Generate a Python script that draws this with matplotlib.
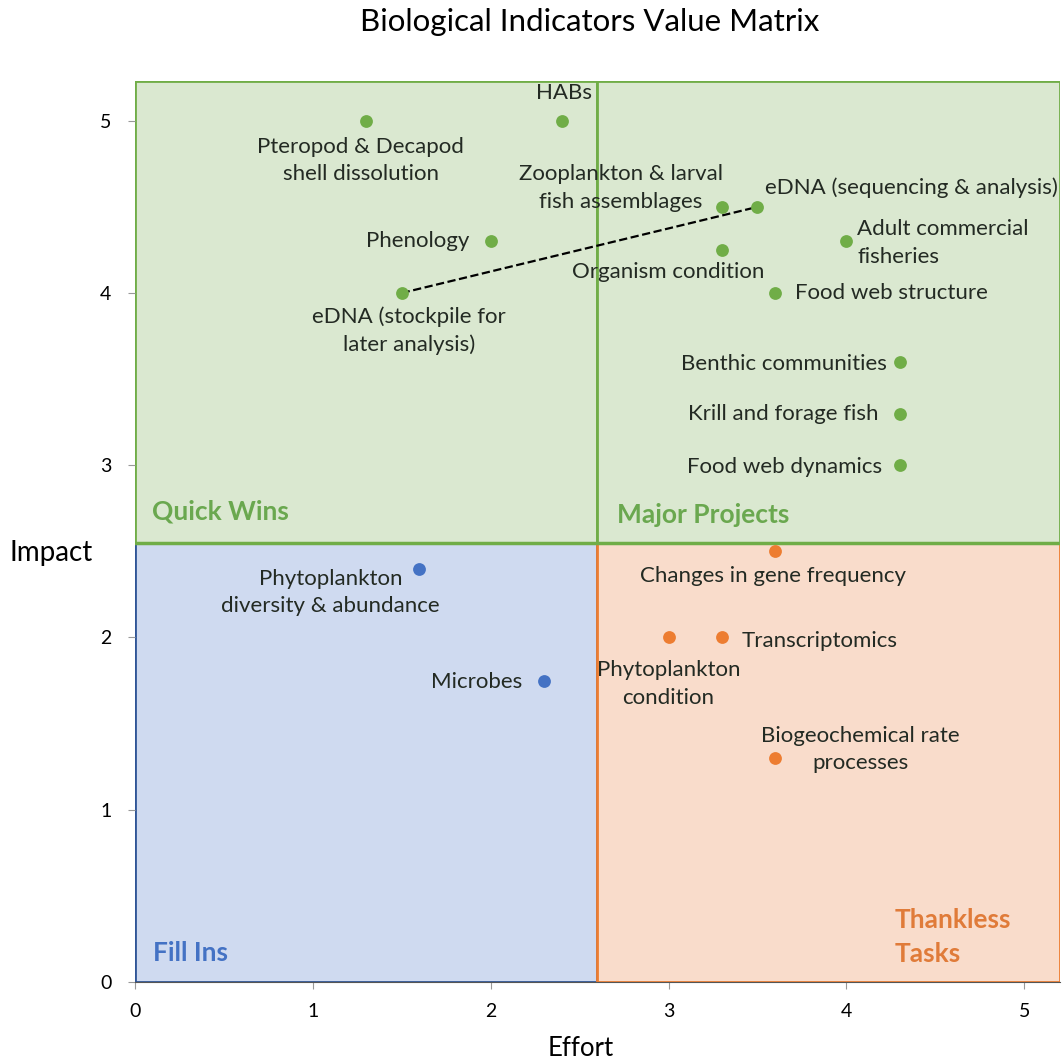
import matplotlib.pyplot as plt
from matplotlib.patches import Rectangle

plt.rcParams['font.family'] = ['Lato', 'DejaVu Sans']

# green group (top quadrants)
green_names = ['Pteropod & Decapod\nshell dissolution', 'HABs', 'Zooplankton & larval\nfish assemblages',
               'eDNA (sequencing & analysis)', 'Phenology', 'Organism condition',
               'Adult commercial\nfisheries', 'eDNA (stockpile for\nlater analysis)', 'Food web structure',
               'Benthic communities', 'Krill and forage fish', 'Food web dynamics']
green_x = [1.3, 2.4, 3.3, 3.5, 2.0, 3.3, 4.0, 1.5, 3.6, 4.3, 4.3, 4.3]
green_y = [5.0, 5.0, 4.5, 4.5, 4.3, 4.25, 4.3, 4.0, 4.0, 3.6, 3.3, 3.0]

blue_names = ['Phytoplankton\ndiversity & abundance', 'Microbes']
blue_x = [1.6, 2.3]
blue_y = [2.4, 1.75]

orange_names = ['Changes in gene frequency', 'Phytoplankton\ncondition', 'Transcriptomics',
                'Biogeochemical rate\nprocesses']
orange_x = [3.6, 3.0, 3.3, 3.6]
orange_y = [2.5, 2.0, 2.0, 1.3]

# label anchor (x, y, ha) for each point
green_lab = [(1.27, 4.77, 'center'), (2.41, 5.16, 'center'), (2.73, 4.61, 'center'),
             (3.54, 4.61, 'left'), (1.88, 4.30, 'right'), (3.0, 4.12, 'center'),
             (4.06, 4.29, 'left'), (1.54, 3.78, 'center'), (3.71, 4.0, 'left'),
             (4.23, 3.59, 'right'), (4.18, 3.30, 'right'), (4.20, 2.99, 'right')]
blue_lab = [(1.10, 2.26, 'center'), (2.18, 1.74, 'right')]
orange_lab = [(3.59, 2.355, 'center'), (3.0, 1.73, 'center'), (3.41, 1.98, 'left'),
              (4.08, 1.35, 'center')]

xmid, ymid = 2.6, 2.55
xmax, ymax = 5.2, 5.23

fig = plt.figure(figsize=(10.62, 10.61), dpi=100)
ax = fig.add_axes([0.127, 0.0745, 0.871, 0.849])
ax.set_xlim(0, xmax)
ax.set_ylim(0, ymax)

ax.add_patch(Rectangle((0, ymid), xmid, ymax - ymid, facecolor='#dae8d0', edgecolor='#70ad47', lw=2, zorder=0))
ax.add_patch(Rectangle((xmid, ymid), xmax - xmid, ymax - ymid, facecolor='#dae8d0', edgecolor='#70ad47', lw=2, zorder=0))
ax.add_patch(Rectangle((0, 0), xmid, ymid, facecolor='#cfdaf0', edgecolor='#2f5597', lw=2, zorder=0))
ax.add_patch(Rectangle((xmid, 0), xmax - xmid, ymid, facecolor='#f9dccb', edgecolor='#ed7d31', lw=2, zorder=0))
ax.plot([0, xmax], [ymid, ymid], color='#70ad47', lw=2.5, zorder=1)

ax.plot([1.5, 3.5], [4.0, 4.5], '--', color='black', lw=1.6, zorder=2)

for xs, ys, names, labs, col in [(green_x, green_y, green_names, green_lab, '#70ad47'),
                                 (blue_x, blue_y, blue_names, blue_lab, '#4472c4'),
                                 (orange_x, orange_y, orange_names, orange_lab, '#ed7d31')]:
    ax.scatter(xs, ys, s=85, color=col, zorder=3, linewidths=0)
    for n, (lx, ly, ha) in zip(names, labs):
        ax.text(lx, ly, n, ha=ha, va='center', fontsize=16, color='#232a23',
                multialignment='center' if ha == 'center' else ha, linespacing=1.45, zorder=4)

qfont = dict(fontsize=19, fontweight='bold', va='center', ha='left', zorder=4)
ax.text(0.095, 2.73, 'Quick Wins', color='#6aa84f', **qfont)
ax.text(2.71, 2.71, 'Major Projects', color='#6aa84f', **qfont)
ax.text(0.10, 0.17, 'Fill Ins', color='#4472c4', **qfont)
ax.text(4.27, 0.26, 'Thankless\nTasks', color='#e07b39', linespacing=1.5, **qfont)

for s in ['top', 'right', 'left']:
    ax.spines[s].set_visible(False)
ax.spines['bottom'].set_color('#555555')
ax.set_xticks([0, 1, 2, 3, 4, 5])
ax.set_yticks([0, 1, 2, 3, 4, 5])
ax.tick_params(axis='both', labelsize=14, color='#999999', length=5)
ax.tick_params(axis='y', pad=12)
ax.tick_params(axis='x', pad=10)

fig.text(0.048, 0.479, 'Impact', fontsize=20, ha='center', va='center')
fig.text(0.547, 0.0122, 'Effort', fontsize=18.5, ha='center', va='center')
fig.text(0.555, 0.979, 'Biological Indicators Value Matrix', fontsize=22.5, ha='center', va='center')

fig.savefig('out.png', dpi=100)
